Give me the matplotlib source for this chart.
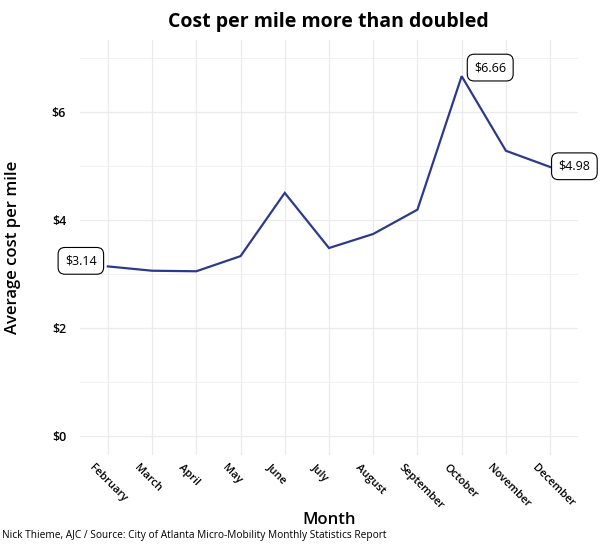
import numpy as np
import matplotlib as mpl
mpl.use("Agg")
import matplotlib.pyplot as plt
from matplotlib.ticker import MultipleLocator, FuncFormatter
from matplotlib.transforms import ScaledTranslation

plt.rcParams["font.family"] = ["Open Sans", "DejaVu Sans"]

months = ["February", "March", "April", "May", "June", "July", "August",
          "September", "October", "November", "December"]
cost = [3.14, 3.06, 3.05, 3.33, 4.50, 3.48, 3.74, 4.19, 6.66, 5.28, 4.98]
labelled = {0: (-8, 4, "right", "center"),
            8: (9, 1.5, "left", "bottom"),
            10: (6, 0.5, "left", "center")}

LINE = "#2d3a8c"
GRID = "#ebebeb"

fig = plt.figure(figsize=(6, 5.49), dpi=100)
ax = fig.add_axes([0.1333, 0.1712, 0.83, 0.756])

x = np.arange(len(months))
ax.plot(x, cost, color=LINE, lw=1.6, solid_joinstyle="miter", zorder=3)

for i, (dx, dy, ha, va) in labelled.items():
    ax.annotate(f"${cost[i]:.2f}", (x[i], cost[i]), xytext=(dx, dy),
                textcoords="offset points", ha=ha, va=va, fontsize=9,
                bbox=dict(boxstyle="round,pad=0.55,rounding_size=0.55",
                          fc="white", ec="black", lw=0.8), zorder=4)

ax.set_xlim(-0.63, len(months) - 1 + 0.63)
ax.set_ylim(-0.35, 7.33)
ax.set_xticks(x)
ax.set_xticklabels(months)
ax.yaxis.set_major_locator(MultipleLocator(2))
ax.yaxis.set_minor_locator(MultipleLocator(1))
ax.yaxis.set_major_formatter(FuncFormatter(lambda v, p: f"${v:.0f}"))

ax.grid(True, which="major", color=GRID, lw=0.9)
ax.grid(True, which="minor", axis="y", color=GRID, lw=0.5)
ax.set_axisbelow(True)
for s in ax.spines.values():
    s.set_visible(False)
ax.tick_params(axis="both", which="both", length=0)
ax.tick_params(axis="y", labelsize=9, pad=10)
ax.tick_params(axis="x", labelsize=8, pad=2)
for lab in ax.get_yticklabels():
    lab.set_fontweight("semibold")

for lab in ax.get_xticklabels():
    lab.set_rotation(-45)
    lab.set_rotation_mode("anchor")
    lab.set_ha("left")
    lab.set_va("center")
    lab.set_fontweight("semibold")
    lab.set_transform(lab.get_transform() +
                      ScaledTranslation(-12 / 72, -6 / 72, fig.dpi_scale_trans))

ax.set_xlabel("Month", fontsize=12, labelpad=0.5, fontweight="semibold")
ax.set_ylabel("Average cost per mile", fontsize=12, labelpad=22,
              fontweight="semibold")

fig.text(0.548, 0.978, "Cost per mile more than doubled", ha="center", va="top",
         fontsize=14, fontweight="bold")
fig.text(0.004, 0.015, "Nick Thieme, AJC / Source: City of Atlanta Micro-Mobility "
         "Monthly Statistics Report", ha="left", va="bottom", fontsize=7.3)

fig.savefig("out.png", dpi=100)
